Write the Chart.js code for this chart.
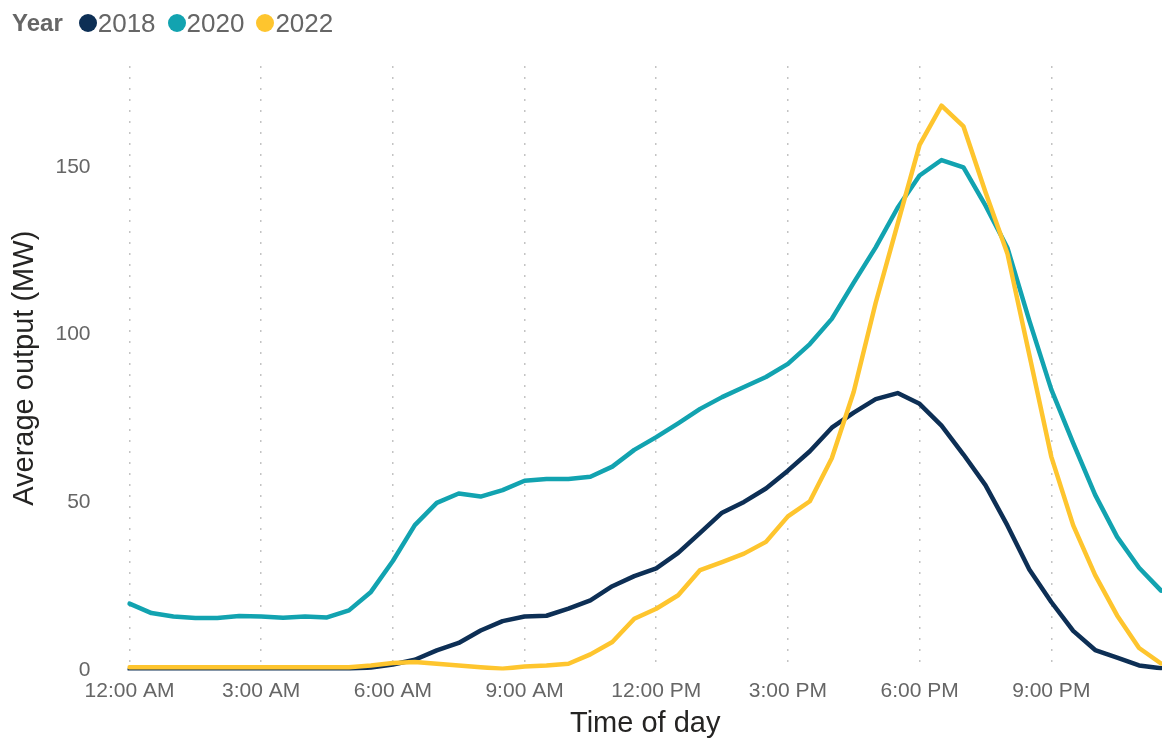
<!DOCTYPE html>
<html>
<head>
<meta charset="utf-8">
<script src="https://cdn.jsdelivr.net/npm/chart.js@4/dist/chart.umd.min.js"></script>
<style>
    body { margin: 0; background: #fff; font-family: 'Liberation Sans', Arial, sans-serif; }
    #wrap { position: relative; width: 1162px; height: 738px; }
    #legend { position: absolute; left: 12px; top: 8px; display: flex; align-items: center; font-size: 26px; color: #666; line-height: 30px; }
    #legend .title { font-weight: bold; font-size: 24px; margin-right: 16px; }
    #legend .dot { width: 18px; height: 18px; border-radius: 50%; margin-right: 1px; }
    #legend .item { margin-right: 12px; }
</style>
</head>
<body>
<div id="wrap">
    <canvas id="chart" width="1162" height="738"></canvas>
    <div id="legend"></div>
</div>
<script>
const timeLabels = [
    '12:00 AM', '12:30 AM', '1:00 AM', '1:30 AM', '2:00 AM', '2:30 AM',
    '3:00 AM', '3:30 AM', '4:00 AM', '4:30 AM', '5:00 AM', '5:30 AM',
    '6:00 AM', '6:30 AM', '7:00 AM', '7:30 AM', '8:00 AM', '8:30 AM',
    '9:00 AM', '9:30 AM', '10:00 AM', '10:30 AM', '11:00 AM', '11:30 AM',
    '12:00 PM', '12:30 PM', '1:00 PM', '1:30 PM', '2:00 PM', '2:30 PM',
    '3:00 PM', '3:30 PM', '4:00 PM', '4:30 PM', '5:00 PM', '5:30 PM',
    '6:00 PM', '6:30 PM', '7:00 PM', '7:30 PM', '8:00 PM', '8:30 PM',
    '9:00 PM', '9:30 PM', '10:00 PM', '10:30 PM', '11:00 PM', '11:30 PM'
];

const years = ['2018', '2020', '2022'];
const yearColors = ['#0d2f55', '#12a3b0', '#fec52e'];

const output2018 = [
    0.3, 0.3, 0.3, 0.3, 0.3, 0.3, 0.3, 0.3, 0.3, 0.3, 0.5, 0.9,
    1.8, 3.2, 6.0, 8.2, 11.9, 14.7, 16.1, 16.3, 18.4, 20.9, 25.1, 28.1,
    30.4, 35.0, 41.0, 47.0, 50.2, 54.2, 59.5, 65.3, 72.3, 76.8, 80.8, 82.6,
    79.4, 72.9, 64.3, 55.2, 43.2, 30.1, 20.4, 11.8, 6.1, 3.8, 1.5, 0.7
];
const output2020 = [
    19.9, 17.1, 16.1, 15.6, 15.6, 16.2, 16.1, 15.7, 16.1, 15.8, 17.9, 23.4,
    32.6, 43.3, 49.9, 52.7, 51.8, 53.7, 56.5, 57.0, 57.0, 57.7, 60.7, 65.7,
    69.5, 73.6, 77.9, 81.4, 84.4, 87.4, 91.3, 97.2, 104.7, 115.5, 126.0, 137.8,
    147.4, 152.0, 149.8, 138.5, 125.9, 104.2, 83.7, 67.7, 52.3, 39.8, 30.6, 23.8
];
const output2022 = [
    1.0, 1.0, 1.0, 1.0, 1.0, 1.0, 1.0, 1.0, 1.0, 1.0, 1.0, 1.5,
    2.2, 2.5, 2.0, 1.5, 1.0, 0.5, 1.2, 1.5, 2.0, 4.8, 8.5, 15.4,
    18.4, 22.4, 29.9, 32.3, 34.8, 38.3, 45.9, 50.4, 63.2, 83.0, 109.5, 133.0,
    156.5, 168.2, 162.0, 142.5, 124.2, 94.0, 63.7, 43.2, 28.4, 16.4, 6.7, 2.1
];

const yTicks = [0, 50, 100, 150];

// legend: "Year" + coloured dots
const legend = document.getElementById('legend');
legend.innerHTML = '<span class="title">Year</span>' + years.map((y, i) =>
    `<span class="dot" style="background:${yearColors[i]}"></span><span class="item">${y}</span>`
).join('');

const seriesData = [output2018, output2020, output2022];
// 2022 drawn on top, then 2020, then 2018
const drawOrder = [2, 1, 0];

new Chart(document.getElementById('chart').getContext('2d'), {
    type: 'line',
    data: {
        labels: timeLabels,
        datasets: years.map((y, i) => ({
            label: y,
            data: seriesData[i],
            borderColor: yearColors[i],
            backgroundColor: yearColors[i],
            borderWidth: 4.5,
            pointRadius: 0,
            tension: 0,
            borderJoinStyle: 'round',
            borderCapStyle: 'round',
            order: drawOrder[i]
        }))
    },
    options: {
        responsive: false,
        animation: false,
        layout: { padding: { top: 66, right: 1, left: 0, bottom: 0 } },
        plugins: {
            legend: { display: false },
            tooltip: { enabled: false }
        },
        scales: {
            x: {
                grid: {
                    color: ctx => ctx.index % 6 === 0 ? '#c4c4c4' : 'rgba(0,0,0,0)',
                    lineWidth: 1.5,
                    drawTicks: false
                },
                border: { display: false, dash: [2, 9] },
                ticks: {
                    autoSkip: false,
                    maxRotation: 0,
                    minRotation: 0,
                    padding: 8,
                    color: '#666',
                    font: { family: 'Liberation Sans', size: 21 },
                    callback: function(value, index) {
                        return index % 6 === 0 ? this.getLabelForValue(value) : '';
                    }
                },
                title: {
                    display: true,
                    text: 'Time of day',
                    color: '#252423',
                    font: { family: 'Liberation Sans', size: 29 },
                    padding: { top: 0, bottom: -3 }
                },
                afterFit: scale => {
                    scale.height = 67.5;
                    // the plot runs right to the canvas edge
                    scale.paddingLeft = 0;
                    scale.paddingRight = 0;
                }
            },
            y: {
                min: 0,
                max: 180,
                grid: { display: false, drawTicks: false },
                border: { display: false },
                ticks: {
                    stepSize: 50,
                    padding: 39,
                    color: '#666',
                    font: { family: 'Liberation Sans', size: 21 }
                },
                afterBuildTicks: scale => {
                    scale.ticks = yTicks.map(v => ({ value: v }));
                },
                title: {
                    display: true,
                    text: 'Average output (MW)',
                    color: '#252423',
                    font: { family: 'Liberation Sans', size: 29 },
                    padding: { top: 8, bottom: 0 }
                },
                afterFit: scale => { scale.width = 129.5; }
            }
        }
    }
});
</script>
</body>
</html>
